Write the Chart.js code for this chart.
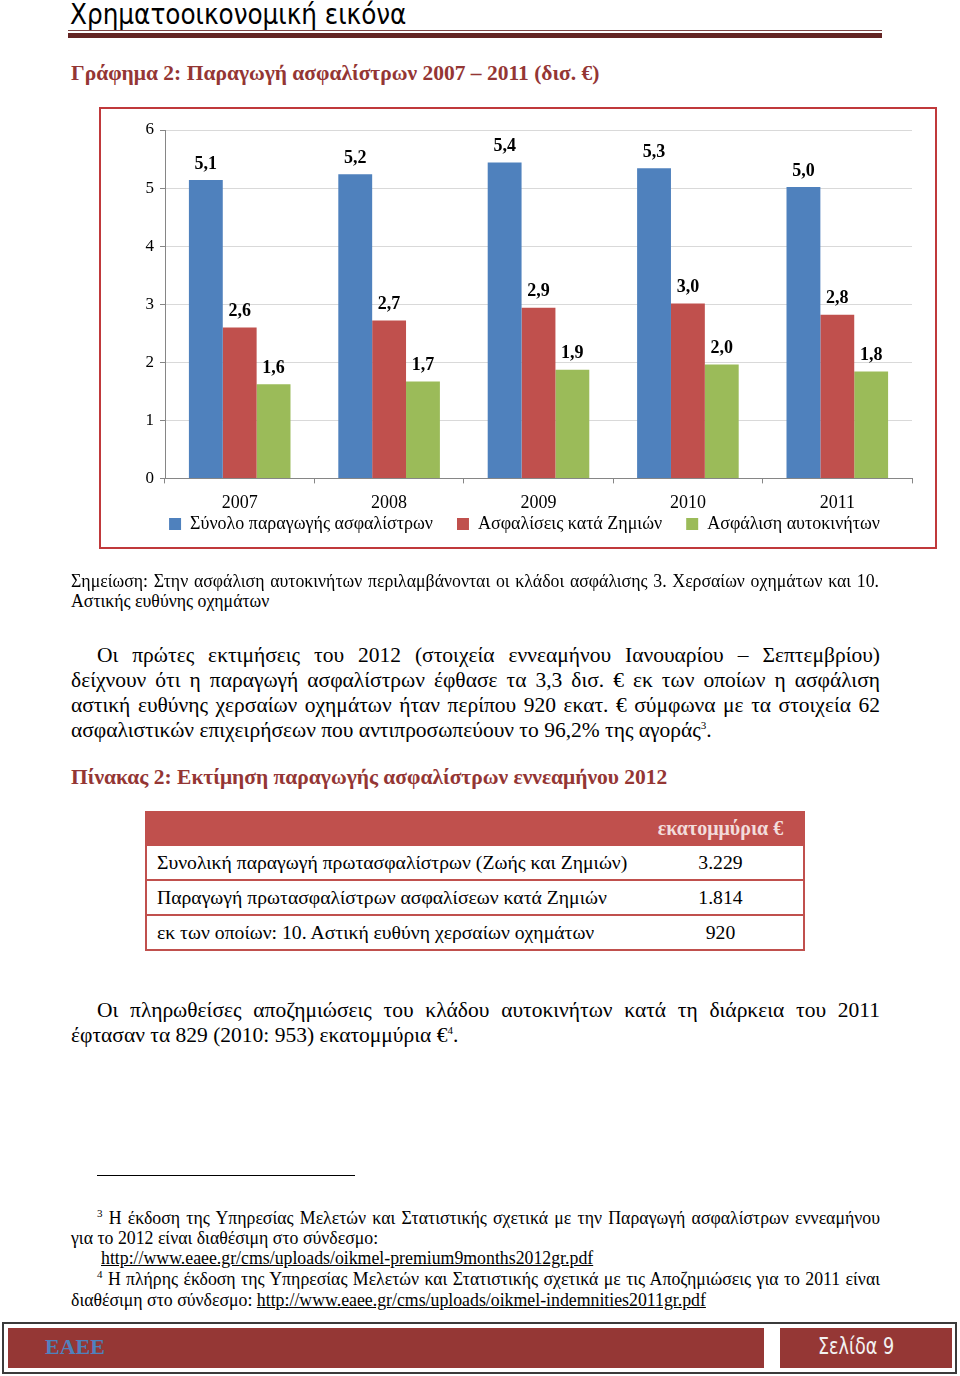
<!DOCTYPE html>
<html>
<head>
<meta charset="utf-8">
<script src="https://cdn.jsdelivr.net/npm/chart.js@4.4.1/dist/chart.umd.min.js"></script>
<style>
  body {
    margin: 0;
    width: 960px;
    height: 1376px;
    position: relative;
    overflow: hidden;
    background: #fff;
    font-family: "Liberation Serif", "Times New Roman", serif;
    color: #000;
  }
  .abs { position: absolute; white-space: nowrap; }
  .just { text-align: justify; text-align-last: justify; }
  .head-title {
    left: 70px; top: -2px; font-family: "Liberation Sans Narrow", "DejaVu Sans Condensed", sans-serif;
    font-size: 27.5px; line-height: 32px;
  }
  .rule-thin { left: 68px; top: 30px; width: 814px; height: 1px; background: #7b4646; }
  .rule-thick { left: 68px; top: 33px; width: 814px; height: 5px; background: #632523; }
  .caption { font-weight: bold; color: #943634; font-size: 21.5px; line-height: 24px; }
  .chart-box {
    left: 99px; top: 107px; width: 838px; height: 442px;
    box-sizing: border-box; border: 2px solid #c0393b;
  }
  .note { font-size: 17.8px; line-height: 20px; }
  .para { font-size: 21.5px; line-height: 25px; }
  .foot { font-size: 17.8px; line-height: 20px; }
  .foot a { color: #000; }
  sup { font-size: 11px; line-height: 0; }
  table.est {
    position: absolute; left: 145px; top: 811px; width: 660px;
    border-collapse: collapse; font-size: 19.7px;
  }
  table.est td { height: 33px; padding: 0; border-bottom: 2px solid #c0504d; }
  table.est tr.hd td { background: #c0504d; color: #f2dcdb; font-weight: bold; font-size: 20px; height: 35px; border-bottom: none; }
  table.est td.lab { padding-left: 10px; }
  table.est td.val { text-align: center; width: 165px; }
  table.est tr td:first-child { border-left: 2px solid #c0504d; }
  table.est tr td:last-child { border-right: 2px solid #c0504d; }
  .footer-frame { left: 2px; top: 1322px; width: 955px; height: 52px; box-sizing: border-box; border: 2px solid #3b3b3b; }
  .footer-bar { top: 1328px; height: 40px; background: #953735; }
</style>
</head>
<body>
  <div class="abs head-title">Χρηματοοικονομική εικόνα</div>
  <div class="abs rule-thin"></div>
  <div class="abs rule-thick"></div>

  <div class="abs caption" style="left:71px; top:61px;">Γράφημα 2: Παραγωγή ασφαλίστρων 2007 – 2011 (δισ. €)</div>

  <div class="abs chart-box"></div>
  <div class="abs" style="left:101px; top:109px; width:834px; height:466px;">
    <canvas id="premiumChart"></canvas>
  </div>

  <div class="abs note just" style="left:71px; top:571px; width:808px;">Σημείωση: Στην ασφάλιση αυτοκινήτων περιλαμβάνονται οι κλάδοι ασφάλισης 3. Χερσαίων οχημάτων και 10.</div>
  <div class="abs note" style="left:71px; top:591px;">Αστικής ευθύνης οχημάτων</div>

  <div class="abs para just" style="left:97px; top:643px; width:783px;">Οι πρώτες εκτιμήσεις του 2012 (στοιχεία εννεαμήνου Ιανουαρίου – Σεπτεμβρίου)</div>
  <div class="abs para just" style="left:71px; top:668px; width:809px;">δείχνουν ότι η παραγωγή ασφαλίστρων έφθασε τα 3,3 δισ. € εκ των οποίων η ασφάλιση</div>
  <div class="abs para just" style="left:71px; top:693px; width:809px;">αστική ευθύνης χερσαίων οχημάτων ήταν περίπου 920 εκατ. € σύμφωνα με τα στοιχεία 62</div>
  <div class="abs para" style="left:71px; top:718px;">ασφαλιστικών επιχειρήσεων που αντιπροσωπεύουν το 96,2% της αγοράς<sup>3</sup>.</div>

  <div class="abs caption" style="left:71px; top:765px;">Πίνακας 2: Εκτίμηση παραγωγής ασφαλίστρων εννεαμήνου 2012</div>

  <table class="est">
    <tr class="hd"><td class="lab"></td><td class="val">εκατομμύρια €</td></tr>
    <tr><td class="lab">Συνολική παραγωγή πρωτασφαλίστρων (Ζωής και Ζημιών)</td><td class="val">3.229</td></tr>
    <tr><td class="lab">Παραγωγή πρωτασφαλίστρων ασφαλίσεων κατά Ζημιών</td><td class="val">1.814</td></tr>
    <tr><td class="lab">εκ των οποίων: 10. Αστική ευθύνη χερσαίων οχημάτων</td><td class="val">920</td></tr>
  </table>

  <div class="abs para just" style="left:97px; top:998px; width:783px;">Οι πληρωθείσες αποζημιώσεις του κλάδου αυτοκινήτων κατά τη διάρκεια του 2011</div>
  <div class="abs para" style="left:71px; top:1023px;">έφτασαν τα 829 (2010: 953) εκατομμύρια €<sup>4</sup>.</div>

  <div class="abs" style="left:97px; top:1175px; width:258px; height:1px; background:#000;"></div>

  <div class="abs foot just" style="left:97px; top:1208px; width:783px;"><sup>3</sup> Η έκδοση της Υπηρεσίας Μελετών και Στατιστικής σχετικά με την Παραγωγή ασφαλίστρων εννεαμήνου</div>
  <div class="abs foot" style="left:71px; top:1228px;">για το 2012 είναι διαθέσιμη στο σύνδεσμο:</div>
  <div class="abs foot" style="left:101px; top:1248px;"><a href="#">http://www.eaee.gr/cms/uploads/oikmel-premium9months2012gr.pdf</a></div>
  <div class="abs foot just" style="left:97px; top:1269px; width:783px;"><sup>4</sup> Η πλήρης έκδοση της Υπηρεσίας Μελετών και Στατιστικής σχετικά με τις Αποζημιώσεις για το 2011 είναι</div>
  <div class="abs foot" style="left:71px; top:1290px;">διαθέσιμη στο σύνδεσμο: <a href="#">http://www.eaee.gr/cms/uploads/oikmel-indemnities2011gr.pdf</a></div>

  <div class="abs footer-frame"></div>
  <div class="abs footer-bar" style="left:8px; width:756px;"></div>
  <div class="abs footer-bar" style="left:780px; width:172px;"></div>
  <div class="abs" style="left:45px; top:1333px; font-size:22px; line-height:28px; font-weight:bold; color:#4f81bd;">ΕΑΕΕ</div>
  <div class="abs" style="left:818px; top:1332px; font-size:23px; line-height:28px; color:#f2f2f2; font-family:'Liberation Sans Narrow','DejaVu Sans Condensed',sans-serif; transform:scaleX(0.85); transform-origin:left center;">Σελίδα 9</div>

<script>
  const years = ["2007", "2008", "2009", "2010", "2011"];
  const seriesNames = [
    "Σύνολο παραγωγής ασφαλίστρων",
    "Ασφαλίσεις κατά Ζημιών",
    "Ασφάλιση αυτοκινήτων",
  ];
  const totalPremiums = [5.14, 5.24, 5.44, 5.34, 5.02];
  const nonLifePremiums = [2.6, 2.72, 2.94, 3.01, 2.82];
  const motorPremiums = [1.62, 1.67, 1.87, 1.96, 1.84];
  const seriesColors = ["#4f81bd", "#c0504d", "#9bbb59"];
  const yMin = 0;
  const yMax = 6;
  const yStep = 1;

  const serifFont = "'Liberation Serif', 'Times New Roman', serif";
  // legend sits closer to the year labels than chart.js would put it
  const legendShift = { x: 18, y: -32 };

  // writes the value above every bar, greek style decimal comma
  const valueLabels = {
    id: "valueLabels",
    afterDatasetsDraw(chart) {
      const ctx = chart.ctx;
      ctx.save();
      ctx.font = "bold 18px " + serifFont;
      ctx.fillStyle = "#000";
      ctx.textAlign = "center";
      ctx.textBaseline = "middle";
      chart.data.datasets.forEach((dataset, i) => {
        chart.getDatasetMeta(i).data.forEach((bar, j) => {
          const text = dataset.data[j].toFixed(1).replace(".", ",");
          ctx.fillText(text, bar.x, bar.y - 16);
        });
      });
      ctx.restore();
    },
  };

  const moveLegend = {
    id: "moveLegend",
    beforeDraw(chart) {
      const legend = chart.legend;
      if (!legend || legend._moved) return;
      const draw = legend.draw.bind(legend);
      legend.draw = function () {
        chart.ctx.save();
        chart.ctx.translate(legendShift.x, legendShift.y);
        draw();
        chart.ctx.restore();
      };
      legend._moved = true;
    },
  };

  const allSeries = [totalPremiums, nonLifePremiums, motorPremiums];
  const datasets = allSeries.map((values, i) => ({
    label: seriesNames[i],
    data: values,
    backgroundColor: seriesColors[i],
    borderWidth: 0,
    categoryPercentage: 0.68,
    barPercentage: 1.0,
  }));

  const ctx = document.getElementById("premiumChart").getContext("2d");
  const chart = new Chart(ctx, {
    type: "bar",
    data: {
      labels: years,
      datasets: datasets,
    },
    options: {
      responsive: true,
      maintainAspectRatio: false,
      animation: false,
      layout: {
        padding: { top: 21, right: 23, bottom: 0, left: 0 },
      },
      scales: {
        x: {
          grid: {
            display: true,
            drawOnChartArea: false,
            drawTicks: true,
            tickLength: 5,
            color: "#868686",
            offset: true,
          },
          border: { color: "#868686", width: 1 },
          ticks: {
            color: "#000",
            padding: 9,
            font: { family: serifFont, size: 18 },
          },
        },
        y: {
          min: yMin,
          max: yMax,
          ticks: {
            stepSize: yStep,
            color: "#000",
            padding: 6,
            font: { family: serifFont, size: 17 },
          },
          grid: {
            color: "#d9d9d9",
            tickColor: "#868686",
            tickLength: 5,
          },
          border: { color: "#868686", width: 1 },
          afterFit(scale) {
            scale.width = 64;
          },
        },
      },
      plugins: {
        legend: {
          display: true,
          position: "bottom",
          labels: {
            boxWidth: 12,
            boxHeight: 12,
            padding: 24,
            color: "#000",
            font: { family: serifFont, size: 18 },
          },
        },
        tooltip: { enabled: false },
      },
    },
    plugins: [valueLabels, moveLegend],
  });
</script>
</body>
</html>
